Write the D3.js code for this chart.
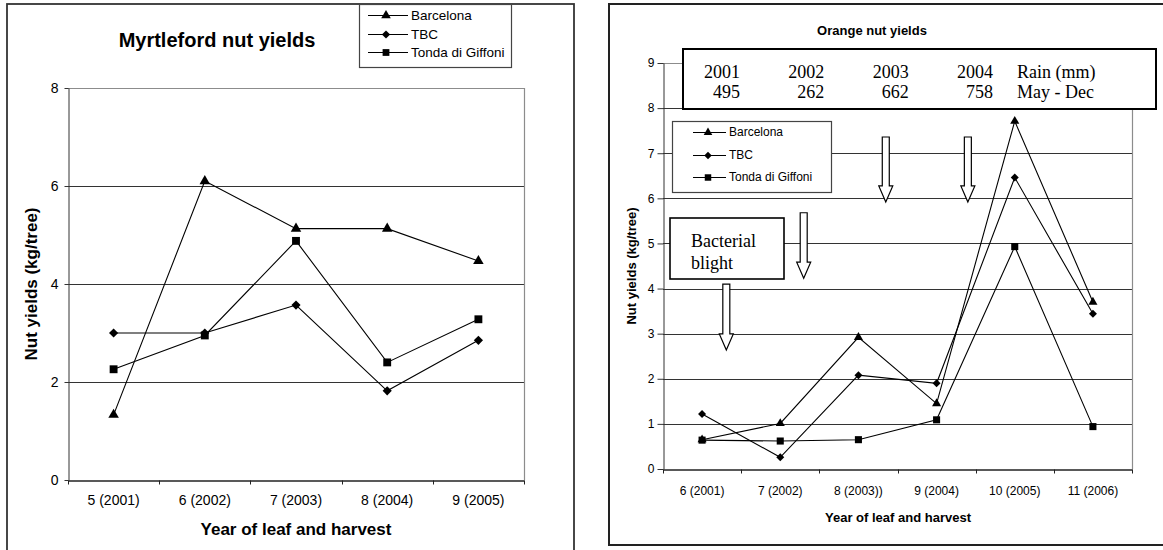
<!DOCTYPE html>
<html>
<head>
<meta charset="utf-8">
<script src="https://cdn.jsdelivr.net/npm/d3@7"></script>
<style>
  html, body { margin: 0; padding: 0; background: #fff; }
  svg { display: block; font-family: "Liberation Sans", Arial, sans-serif; }
</style>
</head>
<body>
<svg id="chart" width="1163" height="550"></svg>
<script>
// ---- data: left chart (Myrtleford) ----
var myrtleCats = ['5 (2001)', '6 (2002)', '7 (2003)', '8 (2004)', '9 (2005)'];
var myrtleBarcelona = [1.33, 6.10, 5.13, 5.13, 4.47];
var myrtleTBC = [3.00, 3.00, 3.57, 1.82, 2.85];
var myrtleTonda = [2.26, 2.95, 4.88, 2.40, 3.28];
var myrtleTicks = [0, 2, 4, 6, 8];

// ---- data: right chart (Orange) ----
var orangeCats = ['6 (2001)', '7 (2002)', '8 (2003))', '9 (2004)', '10 (2005)', '11 (2006)'];
var orangeBarcelona = [0.65, 1.01, 2.92, 1.45, 7.71, 3.70];
var orangeTBC = [1.22, 0.26, 2.08, 1.90, 6.46, 3.44];
var orangeTonda = [0.64, 0.62, 0.65, 1.09, 4.93, 0.94];
var orangeTicks = [0, 1, 2, 3, 4, 5, 6, 7, 8, 9];

var seriesNames = ['Barcelona', 'TBC', 'Tonda di Giffoni'];

// rain table shown in the box
var rainYears = ['2001', '2002', '2003', '2004'];
var rainMm = ['495', '262', '662', '758'];

// bacterial blight arrows: position in category units, top and tip in kg/tree
var arrowAt = [0.81, 1.80, 2.85, 3.90];
var arrowTop = [4.10, 5.68, 7.36, 7.36];
var arrowTip = [2.64, 4.23, 5.92, 5.92];

var svg = d3.select('#chart');

function marker(sel, kind, size) {
  // 0 triangle, 1 diamond (rotated square), 2 square
  var type = kind === 0 ? d3.symbolTriangle : d3.symbolSquare;
  sel.attr('d', d3.symbol().type(type).size(size[kind]))
    .attr('fill', '#000');
  return sel;
}

function drawPlot(o) {
  var g = svg.append('g');
  var x = d3.scaleBand().domain(o.cats).range([o.left, o.right]);
  var y = d3.scaleLinear().domain([0, o.max]).range([o.bottom, o.top]);

  // gridlines
  g.append('g').selectAll('line')
    .data(o.ticks.filter(function(t) { return t > 0 && t < o.max; }))
    .join('line')
    .attr('x1', o.left).attr('x2', o.right)
    .attr('y1', function(d) { return Math.round(y(d)) + 0.5; })
    .attr('y2', function(d) { return Math.round(y(d)) + 0.5; })
    .attr('stroke', '#333').attr('stroke-width', 1);

  // plot area border (top + right)
  g.append('path')
    .attr('d', 'M' + o.left + ',' + (Math.round(y(o.max)) + 0.5) + 'H' + (o.right + 0.5) + 'V' + o.bottom)
    .attr('fill', 'none').attr('stroke', '#8c8c8c').attr('stroke-width', 1.2);

  // y axis
  var ya = g.append('g')
    .attr('transform', 'translate(' + (o.left + 0.5) + ',0)')
    .call(d3.axisLeft(y).tickValues(o.ticks).tickSize(o.yTick).tickSizeOuter(0).tickPadding(o.yPad));
  ya.select('.domain').attr('stroke', '#333');
  ya.selectAll('.tick line').attr('stroke', '#333');
  ya.selectAll('text').attr('font-size', o.tickFont).attr('fill', '#000').attr('font-family', null);

  // x axis: labels under category centres, ticks at boundaries
  var xa = g.append('g')
    .attr('transform', 'translate(0,' + (Math.round(o.bottom) + 0.5) + ')')
    .call(d3.axisBottom(x).tickSize(0).tickSizeOuter(0).tickPadding(o.xPad));
  xa.select('.domain').attr('stroke', '#222').attr('stroke-width', 1.3);
  xa.selectAll('text').attr('font-size', o.tickFont).attr('fill', '#000').attr('font-family', null);
  xa.selectAll('line.bound')
    .data(o.cats.map(function(c) { return x(c); }).concat([o.right]))
    .join('line').attr('class', 'bound')
    .attr('x1', function(d) { return Math.round(d) + 0.5; })
    .attr('x2', function(d) { return Math.round(d) + 0.5; })
    .attr('y1', 0).attr('y2', 4)
    .attr('stroke', '#222');

  var cx = function(d, i) { return x(o.cats[i]) + x.bandwidth() / 2; };
  var line = d3.line().x(cx).y(function(d) { return y(d); });

  o.series.forEach(function(vals) {
    g.append('path').datum(vals)
      .attr('d', line).attr('fill', 'none')
      .attr('stroke', '#000').attr('stroke-width', 1.1);
  });
  o.series.forEach(function(vals, k) {
    g.append('g').selectAll('path').data(vals).join('path')
      .call(marker, k, o.sym)
      .attr('transform', function(d, i) {
        return 'translate(' + cx(d, i) + ',' + y(d) + ') rotate(' + (k === 1 ? 45 : 0) + ')';
      });
  });

  return { x: x, y: y, g: g };
}

function drawLegend(o) {
  var g = svg.append('g');
  g.append('rect')
    .attr('x', o.x0 + 0.5).attr('y', o.y0 + 0.5)
    .attr('width', o.x1 - o.x0).attr('height', o.y1 - o.y0)
    .attr('fill', '#fff').attr('stroke', '#444').attr('stroke-width', 1.2);
  var row = g.selectAll('g.row').data(seriesNames).join('g')
    .attr('transform', function(d, i) { return 'translate(0,' + o.rows[i] + ')'; });
  row.append('line')
    .attr('x1', o.lx1).attr('x2', o.lx2).attr('y1', 0.5).attr('y2', 0.5)
    .attr('stroke', '#000').attr('stroke-width', 1.1);
  row.append('path')
    .each(function(d, i) {
      d3.select(this).call(marker, i, o.sym)
        .attr('transform', 'translate(' + o.mx + ',0.5) rotate(' + (i === 1 ? 45 : 0) + ')');
    });
  row.append('text')
    .attr('x', o.tx).attr('y', 0).attr('dy', '0.35em')
    .attr('font-size', o.font).attr('fill', '#000')
    .text(function(d) { return d; });
}

// ---------------- left chart ----------------
svg.append('rect')
  .attr('x', 7).attr('y', 4).attr('width', 567).attr('height', 580)
  .attr('fill', 'none').attr('stroke', '#333').attr('stroke-width', 1.8);

drawPlot({
  cats: myrtleCats, series: [myrtleBarcelona, myrtleTBC, myrtleTonda],
  ticks: myrtleTicks, max: 8,
  left: 68, right: 524, top: 88, bottom: 480,
  yTick: 4, yPad: 6, xPad: 15, tickFont: '14px',
  sym: [48, 42, 62]
});

svg.append('text')
  .attr('x', 217).attr('y', 47).attr('text-anchor', 'middle')
  .attr('font-size', '20px').attr('font-weight', 'bold')
  .text('Myrtleford nut yields');

svg.append('text')
  .attr('transform', 'translate(31,284) rotate(-90)')
  .attr('text-anchor', 'middle').attr('dy', '0.35em')
  .attr('font-size', '17px').attr('font-weight', 'bold')
  .text('Nut yields (kg/tree)');

svg.append('text')
  .attr('x', 296).attr('y', 535).attr('text-anchor', 'middle')
  .attr('font-size', '17px').attr('font-weight', 'bold')
  .text('Year of leaf and harvest');

drawLegend({
  x0: 359, y0: 4, x1: 511, y1: 67,
  rows: [15, 34, 52], lx1: 368, lx2: 408, mx: 386, tx: 411,
  font: '13.5px', sym: [40, 34, 46]
});

// ---------------- right chart ----------------
svg.append('rect')
  .attr('x', 609).attr('y', 4).attr('width', 580).attr('height', 541)
  .attr('fill', 'none').attr('stroke', '#222').attr('stroke-width', 2);

var right = drawPlot({
  cats: orangeCats, series: [orangeBarcelona, orangeTBC, orangeTonda],
  ticks: orangeTicks, max: 9,
  left: 663, right: 1132, top: 63, bottom: 469,
  yTick: 6, yPad: 3, xPad: 17, tickFont: '12px',
  sym: [36, 32, 50]
});

svg.append('text')
  .attr('x', 872).attr('y', 35).attr('text-anchor', 'middle')
  .attr('font-size', '13px').attr('font-weight', 'bold')
  .text('Orange nut yields');

svg.append('text')
  .attr('transform', 'translate(631,266) rotate(-90)')
  .attr('text-anchor', 'middle').attr('dy', '0.35em')
  .attr('font-size', '13px').attr('font-weight', 'bold')
  .text('Nut yields (kg/tree)');

svg.append('text')
  .attr('x', 898).attr('y', 522).attr('text-anchor', 'middle')
  .attr('font-size', '13px').attr('font-weight', 'bold')
  .text('Year of leaf and harvest');

drawLegend({
  x0: 672, y0: 121, x1: 831, y1: 192,
  rows: [132, 155, 177], lx1: 693, lx2: 726, mx: 708, tx: 729,
  font: '12px', sym: [32, 28, 42]
});

// rain box
var rain = svg.append('g').attr('font-family', '"Liberation Serif", "Times New Roman", serif')
  .attr('font-size', '18px').attr('fill', '#000');
rain.append('rect')
  .attr('x', 683).attr('y', 49).attr('width', 473).attr('height', 60)
  .attr('fill', '#fff').attr('stroke', '#000').attr('stroke-width', 2);
var colX = d3.scalePoint().domain(rainYears).range([740, 993]);
rain.selectAll('text.yr').data(rainYears).join('text').attr('class', 'yr')
  .attr('x', function(d) { return colX(d); }).attr('y', 78)
  .attr('text-anchor', 'end').text(function(d) { return d; });
rain.selectAll('text.mm').data(rainMm).join('text').attr('class', 'mm')
  .attr('x', function(d, i) { return colX(rainYears[i]); }).attr('y', 98)
  .attr('text-anchor', 'end').text(function(d) { return d; });
rain.append('text').attr('x', 1017).attr('y', 78).text('Rain (mm)');
rain.append('text').attr('x', 1017).attr('y', 98).text('May - Dec');

// bacterial blight box
var bb = svg.append('g').attr('font-family', '"Liberation Serif", "Times New Roman", serif')
  .attr('font-size', '18px').attr('fill', '#000');
bb.append('rect')
  .attr('x', 670).attr('y', 218).attr('width', 114).attr('height', 61)
  .attr('fill', '#fff').attr('stroke', '#000').attr('stroke-width', 1.6);
bb.append('text').attr('x', 691).attr('y', 247).text('Bacterial');
bb.append('text').attr('x', 691).attr('y', 269).text('blight');

// hollow down arrows
var step = right.x.step();
svg.append('g').selectAll('path').data(arrowAt).join('path')
  .attr('d', function(d, i) {
    var ax = 663 + d * step;
    var t = right.y(arrowTop[i]);
    var tip = right.y(arrowTip[i]);
    var hs = tip - 16;
    return 'M' + (ax - 3.5) + ',' + t + 'H' + (ax + 3.5) + 'V' + hs +
      'H' + (ax + 7) + 'L' + ax + ',' + tip + 'L' + (ax - 7) + ',' + hs +
      'H' + (ax - 3.5) + 'Z';
  })
  .attr('fill', '#fff').attr('stroke', '#000').attr('stroke-width', 1.2);
</script>
</body>
</html>
